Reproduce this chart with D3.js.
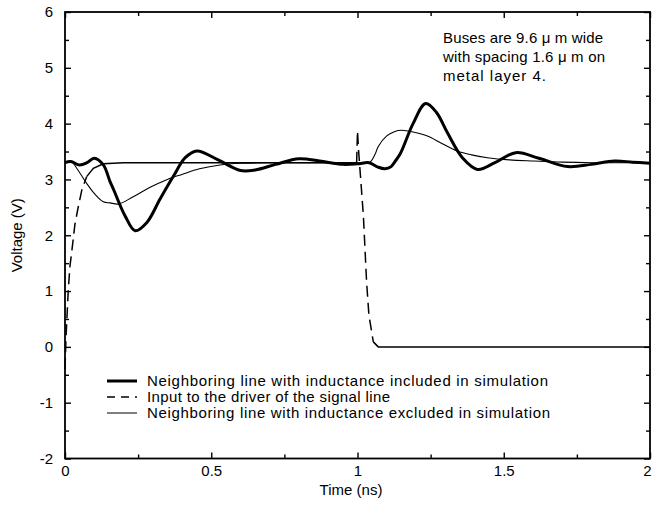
<!DOCTYPE html>
<html>
<head>
<meta charset="utf-8">
<script src="https://cdn.jsdelivr.net/npm/d3@7"></script>
<style>
  body { margin: 0; background: #fff; }
  text { font-family: "Liberation Sans", Arial, Helvetica, sans-serif; fill: #000; }
</style>
</head>
<body>
<svg id="chart" width="652" height="506"></svg>
<script>
var width = 652;
var height = 506;
var margin = { top: 12, right: 2, bottom: 47.5, left: 65 };

// neighboring line, inductance included (thick)
var timeIncl = [0, 0.02, 0.05, 0.075, 0.1, 0.131, 0.154, 0.166, 0.205, 0.24, 0.28, 0.325, 0.371, 0.411, 0.451, 0.52, 0.6, 0.65, 0.72, 0.8, 0.87, 0.95, 1.0, 1.04, 1.07, 1.094, 1.115, 1.128, 1.147, 1.19, 1.233, 1.27, 1.307, 1.36, 1.41, 1.47, 1.541, 1.62, 1.718, 1.8, 1.878, 1.94, 2.0];
var voltIncl = [3.3, 3.32, 3.26, 3.3, 3.38, 3.26, 2.96, 2.82, 2.35, 2.08, 2.23, 2.65, 3.06, 3.39, 3.51, 3.36, 3.16, 3.17, 3.27, 3.37, 3.33, 3.27, 3.28, 3.3, 3.22, 3.19, 3.23, 3.32, 3.47, 4.0, 4.36, 4.2, 3.84, 3.38, 3.18, 3.3, 3.48, 3.38, 3.23, 3.27, 3.33, 3.31, 3.29];

// neighboring line, inductance excluded (thin)
var timeExcl = [0, 0.02, 0.04, 0.074, 0.1, 0.131, 0.154, 0.183, 0.23, 0.291, 0.35, 0.4, 0.46, 0.53, 0.6, 0.7, 0.8, 0.9, 1.0, 1.04, 1.06, 1.071, 1.1, 1.128, 1.15, 1.19, 1.239, 1.29, 1.341, 1.39, 1.444, 1.52, 1.604, 1.7, 1.8, 1.9, 2.0];
var voltExcl = [3.3, 3.33, 3.2, 2.93, 2.75, 2.6, 2.58, 2.56, 2.68, 2.86, 3.0, 3.09, 3.19, 3.26, 3.29, 3.3, 3.3, 3.3, 3.3, 3.3, 3.45, 3.59, 3.78, 3.86, 3.88, 3.85, 3.78, 3.64, 3.51, 3.44, 3.39, 3.35, 3.33, 3.31, 3.3, 3.3, 3.3];

// input to the driver of the signal line (dashed)
var timeInput = [0, 0.003, 0.006, 0.011, 0.017, 0.023, 0.034, 0.045, 0.057, 0.074, 0.097, 0.131, 0.2, 0.997, 1.0, 1.003, 1.02, 1.031, 1.039, 1.054, 1.071, 2.0];
var voltInput = [-0.4, 0.1, 0.45, 1.0, 1.45, 1.7, 2.2, 2.5, 2.8, 3.05, 3.2, 3.28, 3.3, 3.3, 3.87, 3.57, 2.36, 1.17, 0.57, 0.09, 0.0, 0.0];

var xMajor = [0, 0.5, 1, 1.5, 2];
var xMinor = [0.25, 0.75, 1.25, 1.75];
var yMajor = [-2, -1, 0, 1, 2, 3, 4, 5, 6];
var yMinor = [-1.5, -0.5, 0.5, 1.5, 2.5, 3.5, 4.5, 5.5];

var legendLabels = [
    "Neighboring line with inductance included in simulation",
    "Input to the driver of the signal line",
    "Neighboring line with inductance excluded in simulation"
];
var noteLines = ["Buses are 9.6 \u03bc m wide", "with spacing 1.6 \u03bc m on", "metal layer 4."];

var svg = d3.select("#chart");

var x = d3.scaleLinear().domain([0, 2]).range([margin.left, width - margin.right]);
var y = d3.scaleLinear().domain([-2, 6]).range([height - margin.bottom, margin.top]);

var x0 = margin.left, x1 = width - margin.right;
var y0 = height - margin.bottom, y1 = margin.top;

function addAxis(axis, tx, ty) {
    var g = svg.append("g")
        .attr("transform", `translate(${tx},${ty})`)
        .call(axis);
    g.select(".domain").remove();
    g.selectAll("line").attr("stroke", "#000").attr("stroke-width", 1.4);
    g.selectAll("text").style("font-size", "15px").style("font-family", "'Liberation Sans', Arial, sans-serif");
    return g;
}

// major + minor ticks, pointing inward
var xAxisG = addAxis(d3.axisBottom(x).tickValues(xMajor).tickSize(-6).tickPadding(7).tickFormat(d => String(d)), 0, y0);
// last label sits on the right edge; nudge it so it stays on the page
xAxisG.selectAll("text").filter(d => d === 2).attr("dx", -3);
addAxis(d3.axisBottom(x).tickValues(xMinor).tickSize(-4).tickFormat(""), 0, y0);
addAxis(d3.axisTop(x).tickValues(xMajor).tickSize(-6).tickFormat(""), 0, y1);
addAxis(d3.axisTop(x).tickValues(xMinor).tickSize(-4).tickFormat(""), 0, y1);
addAxis(d3.axisLeft(y).tickValues(yMajor).tickSize(-6).tickPadding(12).tickFormat(d => String(d)), x0, 0);
addAxis(d3.axisLeft(y).tickValues(yMinor).tickSize(-4).tickFormat(""), x0, 0);
addAxis(d3.axisRight(y).tickValues(yMajor).tickSize(-6).tickFormat(""), x1, 0);
addAxis(d3.axisRight(y).tickValues(yMinor).tickSize(-4).tickFormat(""), x1, 0);

// frame
svg.append("rect")
    .attr("x", x0).attr("y", y1)
    .attr("width", x1 - x0).attr("height", y0 - y1)
    .attr("fill", "none").attr("stroke", "#000").attr("stroke-width", 1.8);

// axis titles
svg.append("text")
    .attr("x", 351).attr("y", 495)
    .attr("text-anchor", "middle")
    .style("font-size", "15px")
    .text("Time (ns)");

svg.append("text")
    .attr("transform", `translate(22,${(y0 + y1) / 2}) rotate(-90)`)
    .attr("text-anchor", "middle")
    .style("font-size", "15px")
    .text("Voltage (V)");

var line = d3.line()
    .x(d => x(d[0]))
    .y(d => y(d[1]))
    .curve(d3.curveCatmullRom.alpha(0.5));

var inclData = d3.zip(timeIncl, voltIncl);
var exclData = d3.zip(timeExcl, voltExcl);
var inputData = d3.zip(timeInput, voltInput);

svg.append("path")
    .datum(exclData)
    .attr("d", line)
    .attr("fill", "none").attr("stroke", "#000").attr("stroke-width", 1.1);

svg.append("path")
    .datum(inclData)
    .attr("d", line)
    .attr("fill", "none").attr("stroke", "#000").attr("stroke-width", 3);

// input line: steep parts show the dashes, flat parts come out solid
var pieces = [];
for (var i = 1; i < inputData.length; i++) {
    var a = inputData[i - 1], b = inputData[i];
    var steep = Math.abs(y(b[1]) - y(a[1])) > 1.5 * Math.abs(x(b[0]) - x(a[0]));
    var last = pieces[pieces.length - 1];
    if (last && last.steep === steep) {
        last.pts.push(b);
    } else {
        pieces.push({ steep: steep, pts: [a, b] });
    }
}

svg.selectAll(".input-piece")
    .data(pieces)
    .enter()
    .append("path")
    .attr("class", "input-piece")
    .attr("d", d => d3.line().x(p => x(p[0])).y(p => y(p[1]))(d.pts))
    .attr("fill", "none")
    .attr("stroke", "#000")
    .attr("stroke-width", 1.5)
    .attr("stroke-dasharray", d => d.steep ? "11,6" : null);

// legend
var legendStyles = [
    { w: 3, dash: null },
    { w: 1.5, dash: "8,6" },
    { w: 1, dash: null }
];
var legendWidths = [401, 243, 403];
var legend = svg.append("g");
legendLabels.forEach((lbl, i) => {
    var ly = 381 + i * 16;
    legend.append("line")
        .attr("x1", 107).attr("x2", 137)
        .attr("y1", ly).attr("y2", ly)
        .attr("stroke", "#000")
        .attr("stroke-width", legendStyles[i].w)
        .attr("stroke-dasharray", legendStyles[i].dash);
    legend.append("text")
        .attr("x", 147).attr("y", ly + 5)
        .attr("textLength", legendWidths[i])
        .attr("lengthAdjust", "spacing")
        .style("font-size", "15px")
        .text(lbl);
});

// annotation
var noteWidths = [160, 162, 103];
noteLines.forEach((t, i) => {
    svg.append("text")
        .attr("x", 443).attr("y", 43 + i * 19)
        .attr("textLength", noteWidths[i])
        .attr("lengthAdjust", "spacing")
        .style("font-size", "15px")
        .text(t);
});
</script>
</body>
</html>
